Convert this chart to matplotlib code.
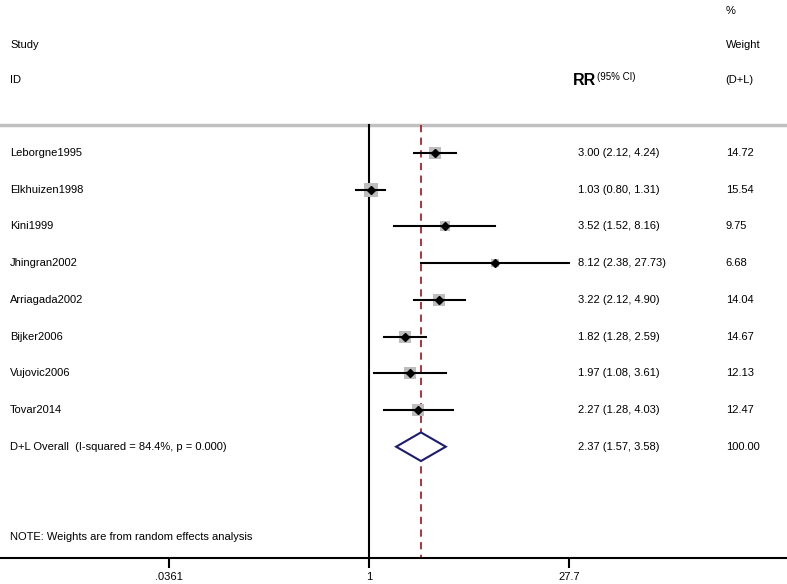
import matplotlib.pyplot as plt
import numpy as np

plt.rcParams['font.family'] = ['Liberation Sans', 'DejaVu Sans']

# studies, RR and 95% CI, weights
studies = ['Leborgne1995', 'Elkhuizen1998', 'Kini1999', 'Jhingran2002',
           'Arriagada2002', 'Bijker2006', 'Vujovic2006', 'Tovar2014']
rr = [3.00, 1.03, 3.52, 8.12, 3.22, 1.82, 1.97, 2.27]
lo = [2.12, 0.80, 1.52, 2.38, 2.12, 1.28, 1.08, 1.28]
hi = [4.24, 1.31, 8.16, 27.73, 4.90, 2.59, 3.61, 4.03]
weights = [14.72, 15.54, 9.75, 6.68, 14.04, 14.67, 12.13, 12.47]

pooled = 2.37
pooled_lo, pooled_hi = 1.57, 3.58
overall_label = 'D+L Overall  (I-squared = 84.4%, p = 0.000)'
note = 'NOTE: Weights are from random effects analysis'
xticks = [0.0361, 1, 27.7]
xticklabels = ['.0361', '1', '27.7']

fig = plt.figure(figsize=(7.87, 5.84), dpi=100)
ax = fig.add_axes([0, 0, 1, 1])
ax.set_xscale('log')
ax.set_xlim(np.exp(-6.128), np.exp(6.942))
ax.set_ylim(11.74, -4.17)

fs = 8
tx = ax.get_yaxis_transform()  # x in axes fraction, y in data

# header
ax.axhline(-0.763, color='#c0c0c0', lw=2.5)
ax.text(0.922, -3.88, '%', transform=tx, fontsize=fs, va='center')
ax.text(0.013, -2.94, 'Study', transform=tx, fontsize=fs, va='center')
ax.text(0.922, -2.94, 'Weight', transform=tx, fontsize=fs, va='center')
ax.text(0.013, -1.99, 'ID', transform=tx, fontsize=fs, va='center')
ax.text(0.922, -1.99, '(D+L)', transform=tx, fontsize=fs, va='center')
ax.text(0.728, -1.99, 'RR', transform=tx, fontsize=11.5, fontweight='bold',
        va='center')
ax.text(0.759, -2.06, '(95% CI)', transform=tx, fontsize=7, va='center')

# null line and pooled line
ax.plot([1, 1], [-0.763, 11.04], color='black', lw=1.5)
ax.plot([pooled, pooled], [-0.763, 11.04], color='#a3262e', lw=1.3,
        dashes=(4, 3))

# studies
for i, name in enumerate(studies):
    ax.plot([lo[i], hi[i]], [i, i], color='black', lw=1.5, zorder=3)
    ax.plot(rr[i], i, marker='s', ms=np.sqrt(weights[i]) * 2.4,
            color='#bdbdbd', zorder=2, mew=0)
    ax.plot(rr[i], i, marker='D', ms=4.5, color='black', zorder=4)
    ax.text(0.013, i, name, transform=tx, fontsize=fs, va='center')
    ax.text(0.734, i, '%.2f (%.2f, %.2f)' % (rr[i], lo[i], hi[i]),
            transform=tx, fontsize=fs, va='center')
    ax.text(0.922, i, '%.2f' % weights[i], transform=tx, fontsize=fs,
            va='center')

# pooled diamond
k = len(studies)
ax.fill([pooled_lo, pooled, pooled_hi, pooled],
        [k, k - 0.39, k, k + 0.39], facecolor='white', edgecolor='#1c1c6e',
        lw=1.5, zorder=3)
ax.text(0.013, k, overall_label, transform=tx, fontsize=fs, va='center')
ax.text(0.734, k, '%.2f (%.2f, %.2f)' % (pooled, pooled_lo, pooled_hi),
        transform=tx, fontsize=fs, va='center')
ax.text(0.922, k, '100.00', transform=tx, fontsize=fs, va='center')

ax.text(0.013, 10.46, note, transform=tx, fontsize=fs, va='center')

# x axis
for s in ['top', 'left', 'right']:
    ax.spines[s].set_visible(False)
ax.spines['bottom'].set_position(('data', 11.04))
ax.spines['bottom'].set_linewidth(1.5)
ax.set_xticks(xticks)
ax.set_xticklabels(xticklabels, fontsize=fs)
ax.minorticks_off()
ax.tick_params(axis='x', direction='out', length=7, width=1.5, pad=3)
ax.set_yticks([])

fig.savefig('out.png', dpi=100)
